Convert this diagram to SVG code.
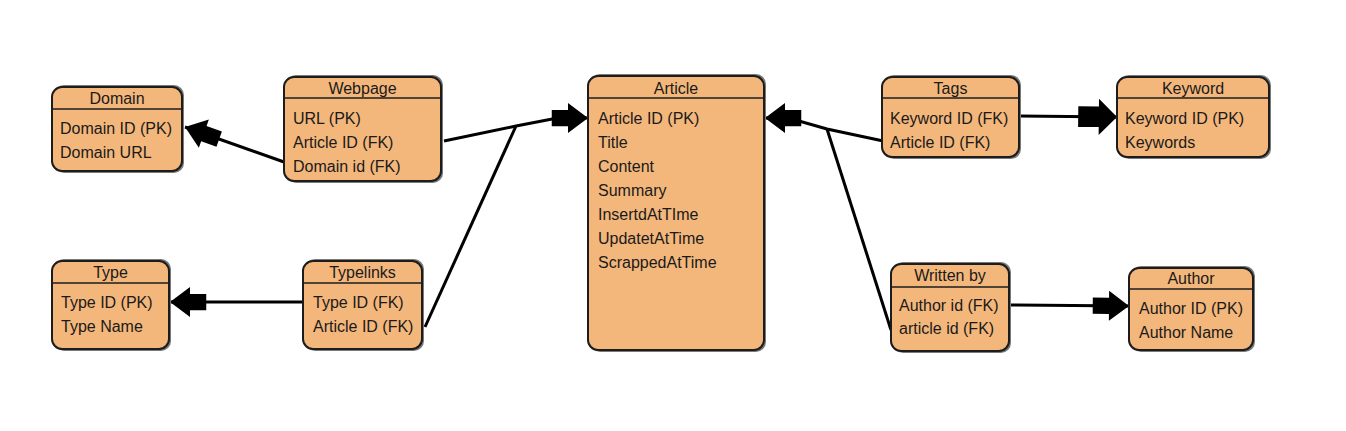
<svg xmlns="http://www.w3.org/2000/svg" width="1346" height="431" viewBox="0 0 1346 431">
<defs>
<style>
.sh{fill:#7a7a7a;}
.bx{fill:#F4B77B;stroke:#1c1c1c;stroke-width:2;}
.hd{stroke:#1c1c1c;stroke-width:1.5;}
.t{font-family:"Liberation Sans",Arial,sans-serif;font-size:16px;fill:#1a1a1a;}
.ti{font-family:"Liberation Sans",Arial,sans-serif;font-size:16px;fill:#1a1a1a;text-anchor:middle;}
.ln{fill:none;stroke:#000;stroke-width:3;}
</style>
<marker id="ar" markerUnits="userSpaceOnUse" markerWidth="40" markerHeight="40" viewBox="0 -16 30 32" refX="29" refY="0" orient="auto">
<path d="M0,-6.5 L13,-6.5 L13,-12 L29,0 L13,12 L13,6.5 L0,6.5 Z" fill="#000"/>
</marker>
<marker id="arR" markerUnits="userSpaceOnUse" markerWidth="40" markerHeight="40" viewBox="0 -16 30 32" refX="29" refY="0" orient="0">
<path d="M0,-6.5 L13,-6.5 L13,-12 L29,0 L13,12 L13,6.5 L0,6.5 Z" fill="#000"/>
</marker>
<marker id="arL" markerUnits="userSpaceOnUse" markerWidth="40" markerHeight="40" viewBox="0 -16 30 32" refX="29" refY="0" orient="180">
<path d="M0,-6.5 L13,-6.5 L13,-12 L29,0 L13,12 L13,6.5 L0,6.5 Z" fill="#000"/>
</marker>
<marker id="arb" markerUnits="userSpaceOnUse" markerWidth="40" markerHeight="40" viewBox="0 -16 33 32" refX="32" refY="0" orient="auto">
<path d="M0,-8.5 L17,-8.5 L17,-15 L32,0 L17,15 L17,8.5 L0,8.5 Z" fill="#000"/>
</marker>
</defs>
<rect width="1346" height="431" fill="#fff"/>

<g id="connectors">
<path class="ln" d="M284,162 L185,127" marker-end="url(#ar)"/>
<path class="ln" d="M444,141 L516,126 L560,117.5 L588,118" marker-end="url(#arR)"/>
<path class="ln" d="M425,327 L516,126"/>
<path class="ln" d="M303,302 L170,302" marker-end="url(#ar)"/>
<path class="ln" d="M888,142 L827,129 L792,119 L765,118" marker-end="url(#arL)"/>
<path class="ln" d="M891,330 L827,129"/>
<path class="ln" d="M1019,116 L1117,117" marker-end="url(#arb)"/>
<path class="ln" d="M1009,305 L1129,306" marker-end="url(#ar)"/>
</g>

<g id="domain">
<rect class="sh" x="54" y="85" width="130" height="88" rx="10"/>
<rect class="bx" x="52" y="87" width="130" height="84" rx="10"/>
<line class="hd" x1="52" y1="109" x2="182" y2="109"/>
<text class="ti" x="117" y="104">Domain</text>
<text class="t" x="60" y="134">Domain ID (PK)</text>
<text class="t" x="60" y="158">Domain URL</text>
</g>

<g id="webpage">
<rect class="sh" x="286" y="75" width="157" height="108" rx="10"/>
<rect class="bx" x="284" y="77" width="157" height="104" rx="10"/>
<line class="hd" x1="284" y1="98" x2="441" y2="98"/>
<text class="ti" x="362.5" y="94">Webpage</text>
<text class="t" x="293" y="124">URL (PK)</text>
<text class="t" x="293" y="148">Article ID (FK)</text>
<text class="t" x="293" y="172">Domain id (FK)</text>
</g>

<g id="type">
<rect class="sh" x="54" y="259" width="117" height="92" rx="10"/>
<rect class="bx" x="52" y="261" width="117" height="88" rx="10"/>
<line class="hd" x1="52" y1="283" x2="169" y2="283"/>
<text class="ti" x="110.5" y="278">Type</text>
<text class="t" x="61" y="308">Type ID (PK)</text>
<text class="t" x="61" y="332">Type Name</text>
</g>

<g id="typelinks">
<rect class="sh" x="305" y="259" width="119" height="92" rx="10"/>
<rect class="bx" x="303" y="261" width="119" height="88" rx="10"/>
<line class="hd" x1="303" y1="283" x2="422" y2="283"/>
<text class="ti" x="362.5" y="278">Typelinks</text>
<text class="t" x="313" y="308">Type ID (FK)</text>
<text class="t" x="313" y="332">Article ID (FK)</text>
</g>

<g id="article">
<rect class="sh" x="590" y="74" width="176" height="278" rx="10"/>
<rect class="bx" x="588" y="76" width="176" height="274" rx="10"/>
<line class="hd" x1="588" y1="98" x2="764" y2="98"/>
<text class="ti" x="676" y="94">Article</text>
<text class="t" x="598" y="124">Article ID (PK)</text>
<text class="t" x="598" y="148">Title</text>
<text class="t" x="598" y="172">Content</text>
<text class="t" x="598" y="196">Summary</text>
<text class="t" x="598" y="220">InsertdAtTIme</text>
<text class="t" x="598" y="244">UpdatetAtTime</text>
<text class="t" x="598" y="268">ScrappedAtTime</text>
</g>

<g id="tags">
<rect class="sh" x="884" y="75" width="137" height="84" rx="10"/>
<rect class="bx" x="882" y="77" width="137" height="80" rx="10"/>
<line class="hd" x1="882" y1="98" x2="1019" y2="98"/>
<text class="ti" x="950.5" y="94">Tags</text>
<text class="t" x="890" y="124">Keyword ID (FK)</text>
<text class="t" x="890" y="148">Article ID (FK)</text>
</g>

<g id="keyword">
<rect class="sh" x="1119" y="75" width="152" height="84" rx="10"/>
<rect class="bx" x="1117" y="77" width="152" height="80" rx="10"/>
<line class="hd" x1="1117" y1="98" x2="1269" y2="98"/>
<text class="ti" x="1193" y="94">Keyword</text>
<text class="t" x="1125" y="124">Keyword ID (PK)</text>
<text class="t" x="1125" y="148">Keywords</text>
</g>

<g id="writtenby">
<rect class="sh" x="893" y="262" width="118" height="91" rx="10"/>
<rect class="bx" x="891" y="264" width="118" height="87" rx="10"/>
<line class="hd" x1="891" y1="287" x2="1009" y2="287"/>
<text class="ti" x="950" y="281">Written by</text>
<text class="t" x="899" y="311">Author id (FK)</text>
<text class="t" x="899" y="334">article id (FK)</text>
</g>

<g id="author">
<rect class="sh" x="1131" y="266" width="124" height="86" rx="10"/>
<rect class="bx" x="1129" y="268" width="124" height="82" rx="10"/>
<line class="hd" x1="1129" y1="289" x2="1253" y2="289"/>
<text class="ti" x="1191" y="284">Author</text>
<text class="t" x="1139" y="314">Author ID (PK)</text>
<text class="t" x="1139" y="338">Author Name</text>
</g>
</svg>
